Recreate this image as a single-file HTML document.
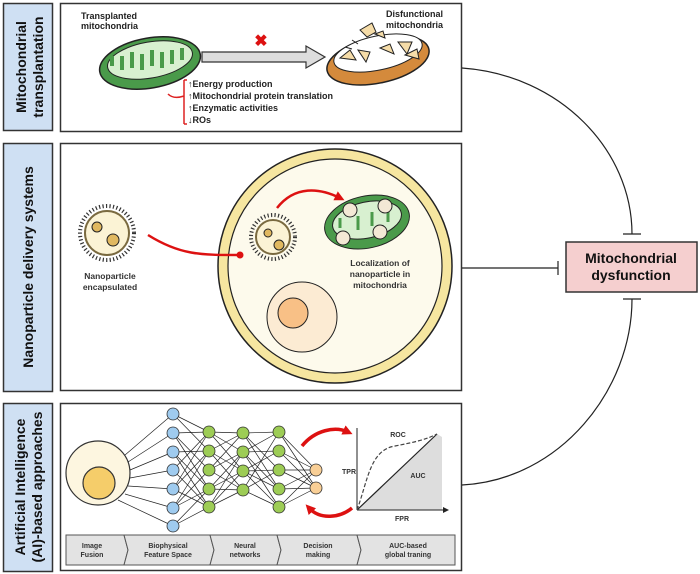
<!DOCTYPE html>
<html><head><meta charset="utf-8"><style>
html,body{margin:0;padding:0;background:#fff;}
svg{display:block;font-family:"Liberation Sans",sans-serif;font-weight:bold;}
</style></head><body>
<svg width="700" height="574" viewBox="0 0 700 574" xmlns="http://www.w3.org/2000/svg">
<defs>
<marker id="ah" markerUnits="userSpaceOnUse" markerWidth="10" markerHeight="10" refX="5" refY="5" orient="auto"><path d="M0,0 L10,5 L0,10 z" fill="#d11"/></marker>
<marker id="ak" markerUnits="userSpaceOnUse" markerWidth="6" markerHeight="6" refX="5" refY="3" orient="auto"><path d="M0,0 L6,3 L0,6 z" fill="#222"/></marker>
<marker id="dot" markerUnits="userSpaceOnUse" markerWidth="8" markerHeight="8" refX="4" refY="4"><circle cx="4" cy="4" r="3.5" fill="#d11"/></marker>
</defs>
<rect x="3.5" y="3.5" width="49" height="127" fill="#cfe0f3" stroke="#333" stroke-width="1.5"/>
<rect x="3.5" y="143.5" width="49" height="248" fill="#cfe0f3" stroke="#333" stroke-width="1.5"/>
<rect x="3.5" y="403.5" width="49" height="168" fill="#cfe0f3" stroke="#333" stroke-width="1.5"/>
<g font-size="14" fill="#111" text-anchor="middle">
<text transform="translate(26,67) rotate(-90)">Mitochondrial</text>
<text transform="translate(43,67) rotate(-90)">transplantation</text>
<text transform="translate(33,267) rotate(-90)">Nanoparticle delivery systems</text>
<text transform="translate(25,487) rotate(-90)">Artificial Intelligence</text>
<text transform="translate(42,487) rotate(-90)">(AI)-based approaches</text>
</g>
<rect x="60.5" y="3.5" width="401" height="128" fill="#fff" stroke="#333" stroke-width="1.5"/>
<rect x="60.5" y="143.5" width="401" height="247" fill="#fff" stroke="#333" stroke-width="1.5"/>
<rect x="60.5" y="403.5" width="401" height="167" fill="#fff" stroke="#333" stroke-width="1.5"/>
<g fill="none" stroke="#222" stroke-width="1.2">
<path d="M462,68 C560,75 632,150 632,234"/>
<path d="M623,234 H641"/>
<path d="M462,485 C560,480 632,390 632,299"/>
<path d="M623,299 H641"/>
<path d="M462,268 H558"/><path d="M558,261 V275"/>
</g>
<rect x="566" y="242" width="131" height="50" fill="#f5cfcf" stroke="#333" stroke-width="1.5"/>
<text x="631" y="263" font-size="14" text-anchor="middle" fill="#111">Mitochondrial</text>
<text x="631" y="280" font-size="14" text-anchor="middle" fill="#111">dysfunction</text>
<g font-size="9" fill="#222">
<text x="81" y="19">Transplanted</text><text x="81" y="29">mitochondria</text>
<text x="386" y="17">Disfunctional</text><text x="386" y="28">mitochondria</text>
<text x="188" y="87">↑Energy production</text>
<text x="188" y="99">↑Mitochondrial protein translation</text>
<text x="188" y="111">↑Enzymatic activities</text>
<text x="188" y="123">↓ROs</text>
</g>
<ellipse cx="150" cy="63" rx="51" ry="25" transform="rotate(-10 150 63)" fill="#4a9a4a" stroke="#222" stroke-width="1.5"/>
<ellipse cx="150" cy="60" rx="43" ry="18" transform="rotate(-10 150 60)" fill="#d8f0d0" stroke="#222" stroke-width="1"/>
<path d="M112,66 v-10 M122,70 v-14 M132,68 v-16 M142,70 v-16 M152,66 v-16 M162,68 v-16 M172,64 v-14 M182,60 v-12" stroke="#4a9a4a" stroke-width="4"/>
<path d="M184,80 V124 M184,80 h3 M184,124 h3 M184,96 C178,98 172,98 168,94" fill="none" stroke="#d22" stroke-width="1.5"/>
<path d="M202,52 H306 V46 L325,57 L306,68 V62 H202 Z" fill="#ddd" stroke="#333" stroke-width="1.2"/>
<text x="261" y="46" font-size="16" fill="#d11" text-anchor="middle">✖</text>
<ellipse cx="378" cy="60" rx="52" ry="23" transform="rotate(-12 378 60)" fill="#d48a3c" stroke="#222" stroke-width="1.5"/>
<ellipse cx="378" cy="53" rx="45" ry="17" transform="rotate(-12 378 53)" fill="#fff" stroke="#222" stroke-width="1"/>
<path d="M340,58 l10,-8 l6,10 z M358,50 l12,2 l-4,10 z M380,48 l10,-4 l4,10 z M398,42 l14,0 l-5,12 z M405,55 l12,-6 l2,10 z M360,30 l12,-7 l4,9 l-9,5 z M375,34 l8,-3 l2,7 z M352,40 l6,4 M345,47 l7,2" fill="#f5dca8" stroke="#222" stroke-width="1"/>
<g stroke="#222" stroke-width="1">
<circle cx="107" cy="233" r="27" fill="none" stroke="#333" stroke-width="4" stroke-dasharray="1.2 2.3"/>
<circle cx="107" cy="233" r="22" fill="#fbf3d5" stroke="#7a6a40" stroke-width="2"/>
<circle cx="97" cy="227" r="5" fill="#e0b860"/><circle cx="113" cy="240" r="6" fill="#e0b860"/>
<circle cx="335" cy="266" r="117" fill="#f6e6a0" stroke="#222" stroke-width="1.5"/>
<circle cx="335" cy="266" r="107" fill="#fdfaec" stroke="#222" stroke-width="1.2"/>
<circle cx="302" cy="317" r="35" fill="#fcebd3"/>
<circle cx="293" cy="313" r="15" fill="#f8c086"/>
<circle cx="273" cy="237" r="22" fill="none" stroke="#333" stroke-width="4" stroke-dasharray="1.2 2.3"/>
<circle cx="273" cy="237" r="17" fill="#fbf3d5" stroke="#7a6a40" stroke-width="2"/>
<circle cx="268" cy="233" r="4" fill="#e0b860"/><circle cx="279" cy="245" r="5" fill="#e0b860"/>
<ellipse cx="367" cy="222" rx="43" ry="26" transform="rotate(-12 367 222)" fill="#4a9a4a"/>
<ellipse cx="367" cy="220" rx="35" ry="18" transform="rotate(-12 367 220)" fill="#d8f0d0"/>
<path d="M340,228 v-10 M358,230 v-14 M372,226 v-14 M388,222 v-12" stroke="#4a9a4a" stroke-width="3"/>
<circle cx="350" cy="210" r="7" fill="#f3e8d5"/><circle cx="385" cy="206" r="7" fill="#f3e8d5"/>
<circle cx="380" cy="232" r="7" fill="#f3e8d5"/><circle cx="343" cy="238" r="7" fill="#f3e8d5"/>
</g>
<path d="M148,235 C180,255 200,255 240,255" fill="none" stroke="#d11" stroke-width="2.5" marker-end="url(#dot)"/>
<path d="M277,208 C295,185 320,188 340,198" fill="none" stroke="#d11" stroke-width="2.5" marker-end="url(#ah)"/>
<g font-size="8.5" fill="#333" text-anchor="middle">
<text x="110" y="279">Nanoparticle</text><text x="110" y="290">encapsulated</text>
<text x="380" y="266">Localization of</text><text x="380" y="277">nanoparticle in</text><text x="380" y="288">mitochondria</text>
</g>
<circle cx="98" cy="473" r="32" fill="#fdf6e0" stroke="#333" stroke-width="1.2"/>
<circle cx="99" cy="483" r="16" fill="#f5cd6a" stroke="#333" stroke-width="1.2"/>
<g stroke="#222" stroke-width="0.7">
<path d="M125,455 L173,414 M128,462 L173,433 M130,470 L173,452 M130,478 L173,470 M128,486 L173,489 M125,494 L173,508 M118,500 L173,526"/>
<path d="M173,414 L209,432 M173,414 L209,451 M173,433 L209,432 M173,433 L209,470 M173,452 L209,451 M173,452 L209,489 M173,470 L209,432 M173,470 L209,507 M173,489 L209,451 M173,489 L209,507 M173,508 L209,470 M173,508 L209,489 M173,526 L209,489 M173,526 L209,507 M173,433 L209,489 M173,452 L209,507 M173,489 L209,432 M173,508 L209,451"/>
<path d="M209,432 L243,433 M209,432 L243,452 M209,432 L243,471 M209,451 L243,433 M209,451 L243,471 M209,451 L243,490 M209,470 L243,452 M209,470 L243,490 M209,470 L243,433 M209,489 L243,452 M209,489 L243,471 M209,507 L243,490 M209,507 L243,471 M209,489 L243,490 M209,507 L243,452"/>
<path d="M243,433 L279,432 M243,433 L279,470 M243,433 L279,489 M243,452 L279,432 M243,452 L279,451 M243,452 L279,507 M243,471 L279,451 M243,471 L279,470 M243,471 L279,489 M243,490 L279,470 M243,490 L279,507 M243,490 L279,432 M243,452 L279,489 M243,471 L279,507"/>
<path d="M279,432 L316,470 M279,432 L316,488 M279,451 L316,470 M279,451 L316,488 M279,470 L316,470 M279,470 L316,488 M279,489 L316,470 M279,489 L316,488 M279,507 L316,470 M279,507 L316,488"/>
</g>
<g stroke="#333" stroke-width="0.8">
<g fill="#9fcbef"><circle cx="173" cy="414" r="6"/><circle cx="173" cy="433" r="6"/><circle cx="173" cy="452" r="6"/><circle cx="173" cy="470" r="6"/><circle cx="173" cy="489" r="6"/><circle cx="173" cy="508" r="6"/><circle cx="173" cy="526" r="6"/></g>
<g fill="#9dcc55"><circle cx="209" cy="432" r="6"/><circle cx="209" cy="451" r="6"/><circle cx="209" cy="470" r="6"/><circle cx="209" cy="489" r="6"/><circle cx="209" cy="507" r="6"/>
<circle cx="243" cy="433" r="6"/><circle cx="243" cy="452" r="6"/><circle cx="243" cy="471" r="6"/><circle cx="243" cy="490" r="6"/>
<circle cx="279" cy="432" r="6"/><circle cx="279" cy="451" r="6"/><circle cx="279" cy="470" r="6"/><circle cx="279" cy="489" r="6"/><circle cx="279" cy="507" r="6"/></g>
<g fill="#f9cf96"><circle cx="316" cy="470" r="6"/><circle cx="316" cy="488" r="6"/></g>
</g>
<path d="M302,446 C315,430 335,426 348,432" fill="none" stroke="#d11" stroke-width="3.5" marker-end="url(#ah)"/>
<path d="M352,508 C340,518 320,520 309,508" fill="none" stroke="#d11" stroke-width="3.5" marker-end="url(#ah)"/>
<polygon points="357,510 437,434 442,437 442,510" fill="#ddd"/>
<path d="M357,510 V428 M357,510 H448" stroke="#222" stroke-width="1" fill="none" marker-end="url(#ak)"/>
<path d="M357,510 L437,434" stroke="#222" stroke-width="1.2"/>
<path d="M357,510 C368,480 370,450 395,446 C415,442 425,440 437,434" stroke="#444" stroke-width="1.2" stroke-dasharray="4 2" fill="none"/>
<g font-size="7" fill="#333" text-anchor="middle">
<text x="398" y="437">ROC</text><text x="349" y="474">TPR</text><text x="418" y="478">AUC</text><text x="402" y="521">FPR</text>
</g>
<path d="M66,535 H124 L128,550 L124,565 H66 Z" fill="#e3e3e3" stroke="#555" stroke-width="1"/>
<path d="M124,535 H210 L214,550 L210,565 H124 L128,550 Z" fill="#e3e3e3" stroke="#555" stroke-width="1"/>
<path d="M210,535 H277 L281,550 L277,565 H210 L214,550 Z" fill="#e3e3e3" stroke="#555" stroke-width="1"/>
<path d="M277,535 H357 L361,550 L357,565 H277 L281,550 Z" fill="#e3e3e3" stroke="#555" stroke-width="1"/>
<path d="M357,535 H455 V565 H357 L361,550 Z" fill="#e3e3e3" stroke="#555" stroke-width="1"/>
<g font-size="7" fill="#333" text-anchor="middle">
<text x="92" y="548">Image</text><text x="92" y="557">Fusion</text>
<text x="168" y="548">Biophysical</text><text x="168" y="557">Feature Space</text>
<text x="245" y="548">Neural</text><text x="245" y="557">networks</text>
<text x="318" y="548">Decision</text><text x="318" y="557">making</text>
<text x="408" y="548">AUC-based</text><text x="408" y="557">global traning</text>
</g>
</svg>
</body></html>
